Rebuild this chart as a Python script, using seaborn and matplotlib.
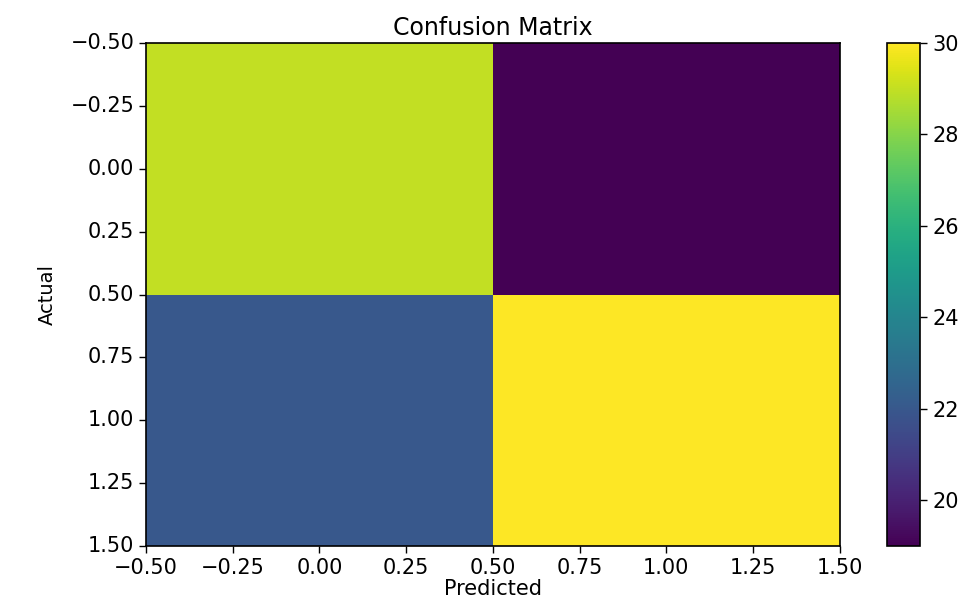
import numpy as np
import pandas as pd
import seaborn as sns
import matplotlib
matplotlib.use('Agg')
import matplotlib.pyplot as plt
from matplotlib.ticker import MultipleLocator, FuncFormatter

# confusion matrix values (rows = actual, cols = predicted)
classes = [0, 1]
row_actual_0 = [29, 19]
row_actual_1 = [22, 30]

cm = pd.DataFrame([row_actual_0, row_actual_1], index=classes, columns=classes)

sns.set_style('ticks')
plt.rcParams['font.family'] = ['DejaVu Sans']
plt.rcParams['axes.edgecolor'] = 'black'
plt.rcParams['axes.labelcolor'] = 'black'
plt.rcParams['text.color'] = 'black'
plt.rcParams['xtick.color'] = 'black'
plt.rcParams['ytick.color'] = 'black'

fig = plt.figure(figsize=(9.74, 6.06), dpi=100)
ax = fig.add_axes([0.15, 0.099, 0.712, 0.830])
cax = fig.add_axes([0.911, 0.099, 0.034, 0.830])

sns.heatmap(cm, cmap='viridis', ax=ax, cbar_ax=cax, square=False)

# imshow-style pixel-centre coordinates
shift = FuncFormatter(lambda v, pos: ('%.2f' % (v - 0.5)).replace('-', '\u2212'))
ax.xaxis.set_major_locator(MultipleLocator(0.25))
ax.yaxis.set_major_locator(MultipleLocator(0.25))
ax.xaxis.set_major_formatter(shift)
ax.yaxis.set_major_formatter(shift)
ax.tick_params(axis='x', labelrotation=0, labelsize=15, length=5, width=1)
ax.tick_params(axis='y', labelrotation=0, labelsize=15, length=5, width=1)

for s in ax.spines.values():
    s.set_visible(True)
    s.set_color('black')
    s.set_linewidth(1.2)

ax.set_title('Confusion Matrix', fontsize=17, pad=6, color='black')
ax.set_xlabel('Predicted', fontsize=15, labelpad=1)
ax.set_ylabel('Actual', fontsize=14, labelpad=10)

cbar = ax.collections[0].colorbar
cbar.outline.set_linewidth(1.2)
cbar.outline.set_edgecolor('black')
cbar.set_ticks([20, 22, 24, 26, 28, 30])
cbar.ax.tick_params(labelsize=15, length=5, width=1)

fig.savefig('out.png', dpi=100)
